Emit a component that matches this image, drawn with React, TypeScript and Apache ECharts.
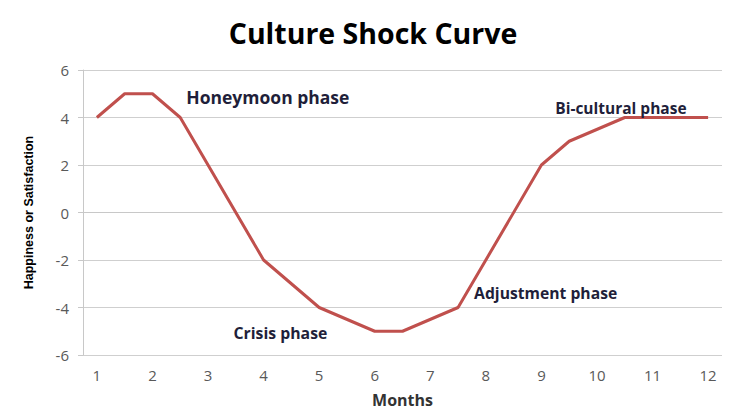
import React, { useEffect, useRef } from "react";
import * as echarts from "echarts";

const monthTicks = [1, 2, 3, 4, 5, 6, 7, 8, 9, 10, 11, 12];
const months = [1, 1.5, 2, 2.5, 4, 5, 6, 6.5, 7.5, 9, 9.5, 10.5, 11, 12];
const happiness = [4, 5, 5, 4, -2, -4, -5, -5, -4, 2, 3, 4, 4, 4];
const phaseLabels = ["Honeymoon phase", "Crisis phase", "Adjustment phase", "Bi-cultural phase"];
const phaseX = [2.6, 3.45, 7.78, 9.24];
const phaseY = [4.86, -5.07, -3.39, 4.4];
const phaseSize = [17.5, 15.8, 15.7, 15.5];

export default function App() {
  const ref = useRef<HTMLDivElement>(null);
  useEffect(() => {
    if (!ref.current) return;
    const chart = echarts.init(ref.current, null, { renderer: "svg" });
    const font = "'Open Sans', 'Liberation Sans', sans-serif";
    chart.setOption({
      animation: false,
      backgroundColor: "#ffffff",
      title: {
        text: "Culture Shock Curve",
        left: 368,
        textAlign: "center",
        top: 13,
        textStyle: { fontFamily: font, fontWeight: "bold", fontSize: 28.5, color: "#000000" },
      },
      grid: { left: 83, right: 12, top: 70, bottom: 64 },
      xAxis: {
        type: "value",
        min: 0.75,
        max: 12.25,
        name: "Months",
        nameLocation: "middle",
        nameGap: 37,
        nameTextStyle: { fontFamily: font, fontWeight: "bold", fontSize: 16, color: "#333333" },
        axisLine: { show: true, lineStyle: { color: "#c8c8c8", width: 1 } },
        axisTick: { show: false },
        splitLine: { show: false },
        axisLabel: {
          customValues: monthTicks,
          fontFamily: font,
          fontSize: 15,
          color: "#595959",
          margin: 12,
        },
      },
      yAxis: {
        type: "value",
        min: -6,
        max: 6,
        interval: 2,
        name: "Happiness or Satisfaction",
        nameLocation: "middle",
        nameGap: 48,
        nameTextStyle: {
          fontFamily: "'Liberation Sans Narrow', 'Liberation Sans', sans-serif",
          fontWeight: "bold",
          fontSize: 12.5,
          color: "#000000",
        },
        axisLine: { show: true, lineStyle: { color: "#c8c8c8", width: 1 } },
        axisTick: { show: true, length: 5, lineStyle: { color: "#c8c8c8" } },
        splitLine: { show: true, lineStyle: { color: "#cfcfcf", width: 1 } },
        axisLabel: { fontFamily: font, fontSize: 15, color: "#595959", margin: 14 },
      },
      series: [
        {
          type: "line",
          data: months.map((m, i) => [m, happiness[i]]),
          showSymbol: false,
          symbol: "none",
          lineStyle: { color: "#c0504d", width: 3 },
          markPoint: {
            symbol: "circle",
            symbolSize: 1,
            itemStyle: { color: "rgba(0,0,0,0)" },
            label: {
              show: true,
              position: "right",
              distance: 0,
              fontFamily: font,
              fontWeight: "bold",
              color: "#1f1f3a",
            },
            data: phaseLabels.map((t, i) => ({
              coord: [phaseX[i], phaseY[i]],
              value: t,
              label: { formatter: t, fontSize: phaseSize[i] },
            })),
          },
        },
      ],
    });
    return () => chart.dispose();
  }, []);
  return <div ref={ref} style={{ width: 734, height: 419, position: "absolute", left: 0, top: 0 }} />;
}
